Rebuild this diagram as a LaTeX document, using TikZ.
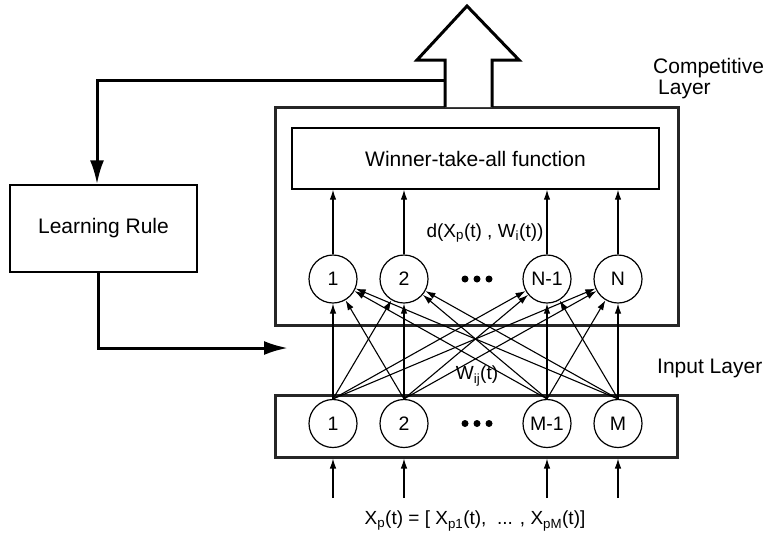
\documentclass[tikz,border=0pt]{standalone}
\usepackage{fontspec}
\setmainfont{Liberation Sans}
\usetikzlibrary{arrows.meta}
\begin{document}
\begin{tikzpicture}[x=1pt,y=-1pt,
  thickbox/.style={draw=black!85,line width=3pt},
  thinbox/.style={draw,line width=1.4pt},
  neuron/.style={draw,line width=1.2pt,circle,minimum size=48pt,inner sep=0pt,font=\fontsize{19.5}{22}\selectfont},
  conn/.style={line width=1.1pt,-{Latex[length=10pt,width=6.5pt]}},
  fb/.style={line width=3pt,-{Latex[length=24pt,width=14pt]}},
  lbl/.style={font=\fontsize{21}{24}\selectfont,inner sep=0pt},
  slbl/.style={font=\fontsize{19}{22}\selectfont,inner sep=0pt},
  dotc/.style={fill,circle,inner sep=0pt,minimum size=7pt}]
\useasboundingbox (0,0) rectangle (768,539);
% boxes
\node[thickbox,minimum width=403pt,minimum height=218pt,inner sep=0pt] (comp) at (476.5,216) {};
\node[thickbox,minimum width=402pt,minimum height=62pt,inner sep=0pt] (inp) at (476,426) {};
\node[thinbox,minimum width=367pt,minimum height=61pt,inner sep=0pt,lbl] (wta) at (475.5,158.5) {Winner-take-all function};
\node[thinbox,minimum width=187pt,minimum height=87pt,inner sep=0pt,lbl] (learn) at (103.5,228.5) {Learning Rule};
% neurons
\foreach \n/\x/\t in {1/333/1,2/404/2,3/547/N-1,4/618/N}{
  \node[neuron] (c\n) at (\x,279) {\t};
}
\foreach \n/\x/\t in {1/333/1,2/404/2,3/547/M-1,4/618/M}{
  \node[neuron] (i\n) at (\x,423.5) {\t};
}
% dots
\foreach \y/\r in {279/c,423.5/i}{
  \node[dotc] (\r d1) at (465,\y) {};
  \node[dotc] (\r d2) at (477,\y) {};
  \node[dotc] (\r d3) at (489,\y) {};
}
% connections
\foreach \j in {1,...,4}{
  \foreach \k in {1,...,4}{
    \draw[conn] (i\j.north) -- (c\k);
  }
  \draw[conn] (c\j.north) -- (c\j.north |- wta.south);
  \coordinate (s\j) at (i\j |- 0,498);
  \draw[conn] (s\j) -- (s\j |- inp.south);
}
% big output arrow
\draw[line width=3pt,line join=miter,fill=white]
  (445,107) -- (445,60) -- (417,60) -- (467,6) -- (519,60) -- (492,60) -- (492,107);
% feedback
\coordinate (fbA) at (445,80);
\coordinate (fbB) at (97,80);
\draw[fb] (fbA) -- (fbB) -- (fbB |- learn.north);
\coordinate (lb) at (98,272);
\coordinate (lc) at (98,348);
\coordinate (ld) at (288,348);
\draw[fb] (lb) -- (lc) -- (ld);
% labels
\node[slbl] (dlab) at (485,233) {d(X\textsubscript{p}(t) , W\textsubscript{i}(t))};
\node[slbl] (wlab) at (477,376) {W\textsubscript{ij}(t)};
\node[slbl] (xlab) at (475,521) {X\textsubscript{p}(t) = [ X\textsubscript{p1}(t), \ ... , X\textsubscript{pM}(t)]};
\node[lbl,anchor=west] (clab) at (653,68) {Competitive};
\node[lbl,anchor=west] (llab) at (658,89) {Layer};
\node[lbl,anchor=west] (ilab) at (657,368) {Input Layer};
\end{tikzpicture}
\end{document}
